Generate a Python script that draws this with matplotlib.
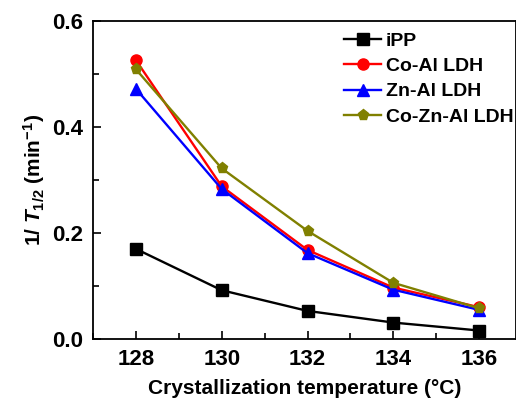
import numpy as np
import matplotlib
matplotlib.use("Agg")
from matplotlib import pyplot as plt
from matplotlib.ticker import MultipleLocator

plt.rcParams['font.family'] = ['Liberation Sans', 'DejaVu Sans']
plt.rcParams['font.weight'] = 'bold'
plt.rcParams['mathtext.fontset'] = 'custom'
plt.rcParams['mathtext.rm'] = 'Liberation Sans:bold'
plt.rcParams['mathtext.it'] = 'Liberation Sans:italic:bold'
plt.rcParams['mathtext.bf'] = 'Liberation Sans:bold'

# data
temps = [128, 130, 132, 134, 136]
ipp = [0.170, 0.092, 0.053, 0.031, 0.016]
coal = [0.526, 0.288, 0.168, 0.097, 0.060]
znal = [0.472, 0.283, 0.162, 0.093, 0.055]
coznal = [0.509, 0.322, 0.204, 0.106, 0.058]

labels = ["iPP", "Co-Al LDH", "Zn-Al LDH", "Co-Zn-Al LDH"]
colors = ["black", "red", "blue", "#808000"]
markers = ["s", "o", "^", "p"]

fig = plt.figure(figsize=(5.16, 4.01), dpi=100)
ax = fig.add_axes([93/516, 1-339/401, (516-93)/516, (339-21)/401])

for ys, lab, c, m in zip([ipp, coal, znal, coznal], labels, colors, markers):
    ax.plot(temps, ys, color=c, marker=m, markersize=8, linewidth=1.7, label=lab)

ax.set_xlim(127, 136.86)
ax.set_ylim(0.0, 0.6)
ax.xaxis.set_major_locator(MultipleLocator(2))
ax.xaxis.set_minor_locator(MultipleLocator(1))
ax.yaxis.set_major_locator(MultipleLocator(0.2))
ax.yaxis.set_minor_locator(MultipleLocator(0.1))
ax.yaxis.set_major_formatter(matplotlib.ticker.FormatStrFormatter('%.1f'))
ax.tick_params(which='both', direction='in', width=1.2, labelsize=16, pad=7)
ax.tick_params(which='major', length=6)
ax.tick_params(which='minor', length=4)
for s in ax.spines.values():
    s.set_linewidth(1.3)

ax.set_xlabel("Crystallization temperature (\u00b0C)", fontsize=15, fontweight='bold', labelpad=7)
ax.set_ylabel(r'1/ $\mathit{T}_{\mathregular{1/2}}$ (min$^{\mathregular{-1}}$)', fontsize=15,
              fontweight='bold', labelpad=4)

ax.legend(loc='upper right', frameon=False, fontsize=14, handlelength=1.9,
          handletextpad=0.25, labelspacing=0.4, bbox_to_anchor=(1.013, 0.99), borderaxespad=0.0)

fig.savefig("out.png", dpi=100)
